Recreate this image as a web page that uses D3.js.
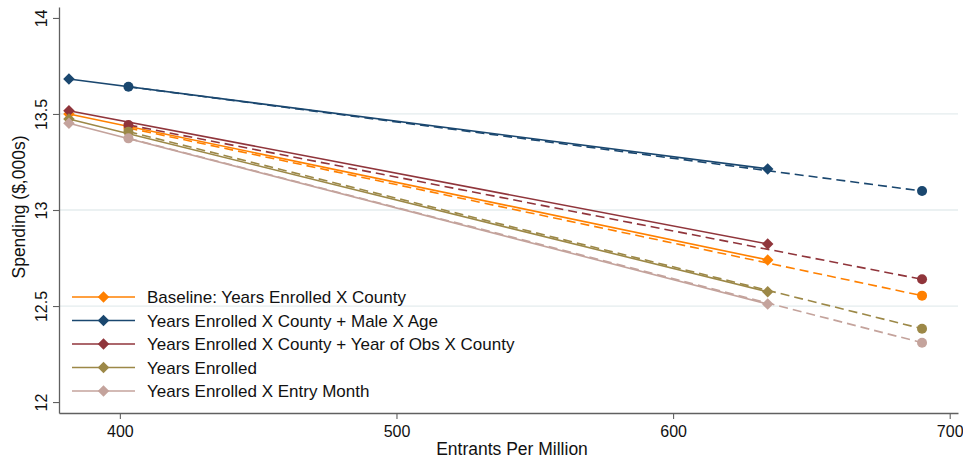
<!DOCTYPE html>
<html>
<head>
<meta charset="utf-8">
<script src="https://cdn.jsdelivr.net/npm/d3@7"></script>
<style>
  html, body { margin: 0; padding: 0; background: #fff; }
  svg { display: block; font-family: "Liberation Sans", Arial, Helvetica, sans-serif; }
</style>
</head>
<body>
<svg id="chart" width="963" height="461"></svg>
<script>
// Entrants per million at which each specification is evaluated.
// Solid segments join the 1st and 3rd points (diamonds),
// dashed segments join the 2nd and 4th points (circles).
const entrants = [381.6, 403.1, 634.2, 690.0];

const seriesNames = [
  "Baseline: Years Enrolled X County",
  "Years Enrolled X County + Male X Age",
  "Years Enrolled X County + Year of Obs X County",
  "Years Enrolled",
  "Years Enrolled X Entry Month"
];

// Predicted spending ($,000s) at each entrants value
const baseline      = [13.500, 13.427, 12.740, 12.554];
const maleAge       = [13.682, 13.642, 13.214, 13.099];
const yearObsCounty = [13.517, 13.443, 12.823, 12.639];
const yearsEnrolled = [13.474, 13.408, 12.574, 12.382];
const entryMonth    = [13.452, 13.373, 12.510, 12.309];

const seriesValues = [baseline, maleAge, yearObsCounty, yearsEnrolled, entryMonth];

const xTicks = [400, 500, 600, 700];
const yTicks = [12, 12.5, 13, 13.5, 14];
const gridTicks = [12.5, 13, 13.5];

const colors = ["#ff8000", "#1a476f", "#90353b", "#9c8847", "#c4a39c"];

const svg = d3.select("#chart");

const x = d3.scaleLinear().domain([378, 703]).range([59, 958]);
const y = d3.scaleLinear().domain([11.943, 14.057]).range([413, 7]);

// horizontal gridlines
svg.append("g")
  .selectAll("line")
  .data(gridTicks)
  .join("line")
  .attr("x1", x.range()[0]).attr("x2", x.range()[1])
  .attr("y1", d => y(d)).attr("y2", d => y(d))
  .attr("stroke", "#e4ecee")
  .attr("stroke-width", 1.3);

// axes
const axisColor = "#606060";
const yAxis = svg.append("g")
  .attr("transform", `translate(${x.range()[0]},0)`)
  .call(d3.axisLeft(y).tickValues(yTicks).tickFormat(d3.format("")).tickSize(6).tickSizeOuter(0));
yAxis.select(".domain").attr("stroke", axisColor).attr("stroke-width", 1.3);
yAxis.selectAll(".tick line").attr("stroke", axisColor).attr("stroke-width", 1.1);
yAxis.selectAll(".tick text")
  .attr("transform", "rotate(-90)")
  .attr("x", 0).attr("y", -12).attr("dy", 0)
  .attr("text-anchor", "middle")
  .attr("fill", "#111")
  .style("font-size", "16px");

const xAxis = svg.append("g")
  .attr("transform", `translate(0,${y.range()[0]})`)
  .call(d3.axisBottom(x).tickValues(xTicks).tickFormat(d3.format("")).tickSize(6).tickSizeOuter(0));
xAxis.select(".domain").attr("stroke", axisColor).attr("stroke-width", 1.3);
xAxis.selectAll(".tick line").attr("stroke", axisColor).attr("stroke-width", 1.1);
xAxis.selectAll(".tick text")
  .attr("y", 23.5).attr("dy", 0)
  .attr("fill", "#111")
  .style("font-size", "16px");

svg.append("text")
  .attr("x", 512).attr("y", 455)
  .attr("text-anchor", "middle")
  .attr("fill", "#111")
  .style("font-size", "17.5px")
  .text("Entrants Per Million");

svg.append("text")
  .attr("transform", "translate(25,207) rotate(-90)")
  .attr("text-anchor", "middle")
  .attr("fill", "#111")
  .style("font-size", "17.5px")
  .text("Spending ($,000s)");

// series: solid diamonds segment, dashed circles segment
const diamond = d3.symbol().type(d3.symbolDiamond2).size(84);
const line = d3.line().x(d => x(d[0])).y(d => y(d[1]));

seriesValues.forEach((vals, i) => {
  const pts = entrants.map((e, j) => [e, vals[j]]);
  const solid = [pts[0], pts[2]];
  const dashed = [pts[1], pts[3]];
  const g = svg.append("g");
  g.append("path").datum(solid).attr("d", line)
    .attr("fill", "none").attr("stroke", colors[i]).attr("stroke-width", 1.6);
  g.append("path").datum(dashed).attr("d", line)
    .attr("fill", "none").attr("stroke", colors[i]).attr("stroke-width", 1.6)
    .attr("stroke-dasharray", "9,5");
  g.selectAll("path.dm").data(solid).join("path").attr("class", "dm")
    .attr("d", diamond)
    .attr("transform", d => `translate(${x(d[0])},${y(d[1])})`)
    .attr("fill", colors[i]);
  g.selectAll("circle").data(dashed).join("circle")
    .attr("cx", d => x(d[0])).attr("cy", d => y(d[1]))
    .attr("r", 5)
    .attr("fill", colors[i]);
});

// legend
const legend = svg.append("g");
const rowY = i => 297 + i * 23.5;
seriesNames.forEach((name, i) => {
  const yy = rowY(i);
  legend.append("line")
    .attr("x1", 72).attr("x2", 135).attr("y1", yy).attr("y2", yy)
    .attr("stroke", colors[i]).attr("stroke-width", 1.6);
  legend.append("path")
    .attr("d", diamond)
    .attr("transform", `translate(103.5,${yy})`)
    .attr("fill", colors[i]);
  legend.append("text")
    .attr("x", 147).attr("y", yy + 6)
    .attr("fill", "#111")
    .style("font-size", "17px")
    .text(name);
});
</script>
</body>
</html>
